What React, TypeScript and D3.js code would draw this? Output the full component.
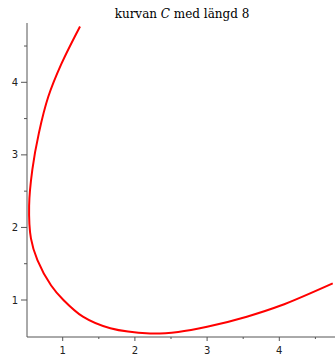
import React from "react";
import * as d3 from "d3";

// curve points (x, y in data units)
const curveX = [1.24, 0.98, 0.8, 0.67, 0.58, 0.535, 0.56, 0.65, 0.84, 1.01, 1.28, 1.66, 2.21, 2.6, 3.0, 3.55, 4.01, 4.74];
const curveY = [4.77, 4.25, 3.8, 3.3, 2.8, 2.3, 1.85, 1.55, 1.2, 1.0, 0.77, 0.61, 0.54, 0.56, 0.63, 0.77, 0.92, 1.23];

const xTicks = [1, 2, 3, 4];
const yTicks = [1, 2, 3, 4];
const xMinor = [1.5, 2.5, 3.5, 4.5];
const yMinor = [1.5, 2.5, 3.5, 4.5];

const W = 335;
const H = 356;

const App: React.FC = () => {
  const x = d3.scaleLinear().domain([1, 4]).range([62.7, 279.3]);
  const y = d3.scaleLinear().domain([1, 4]).range([300, 82.3]);

  const axisLeft = 27;
  const axisBottom = 337;
  const axisTop = 23;

  const pts: [number, number][] = curveX.map((v, i) => [v, curveY[i]]);
  const line = d3
    .line<[number, number]>()
    .x((d) => x(d[0]))
    .y((d) => y(d[1]))
    .curve(d3.curveCatmullRom.alpha(0.5));

  const axisColor = "#555";
  const font = "'DejaVu Sans', sans-serif";

  return (
    <svg
      width={W}
      height={H}
      style={{ position: "fixed", left: 0, top: 0, background: "#fff" }}
    >
      <text
        x={182}
        y={18}
        textAnchor="middle"
        fontFamily="'DejaVu Serif', serif"
        fontSize={12}
        fill="#000"
      >
        kurvan <tspan fontStyle="italic">C</tspan> med längd 8
      </text>

      {/* axes */}
      <line x1={axisLeft} x2={axisLeft} y1={axisTop} y2={axisBottom} stroke={axisColor} strokeWidth={1} />
      <line x1={axisLeft} x2={W} y1={axisBottom} y2={axisBottom} stroke={axisColor} strokeWidth={1} />

      {xTicks.map((t) => (
        <g key={"x" + t}>
          <line x1={x(t)} x2={x(t)} y1={axisBottom} y2={axisBottom + 4} stroke={axisColor} />
          <text x={x(t)} y={354} textAnchor="middle" fontFamily={font} fontSize={10} fill="#222">
            {t}
          </text>
        </g>
      ))}
      {xMinor.map((t) => (
        <line key={"xm" + t} x1={x(t)} x2={x(t)} y1={axisBottom} y2={axisBottom + 2} stroke={axisColor} />
      ))}

      {yTicks.map((t) => (
        <g key={"y" + t}>
          <line x1={axisLeft - 6} x2={axisLeft} y1={y(t)} y2={y(t)} stroke={axisColor} />
          <text x={18} y={y(t) + 3.5} textAnchor="end" fontFamily={font} fontSize={10} fill="#222">
            {t}
          </text>
        </g>
      ))}
      {yMinor.map((t) => (
        <line key={"ym" + t} x1={axisLeft - 3} x2={axisLeft} y1={y(t)} y2={y(t)} stroke={axisColor} />
      ))}

      <path d={line(pts) ?? ""} fill="none" stroke="#ff0000" strokeWidth={2} />
    </svg>
  );
};

export default App;
